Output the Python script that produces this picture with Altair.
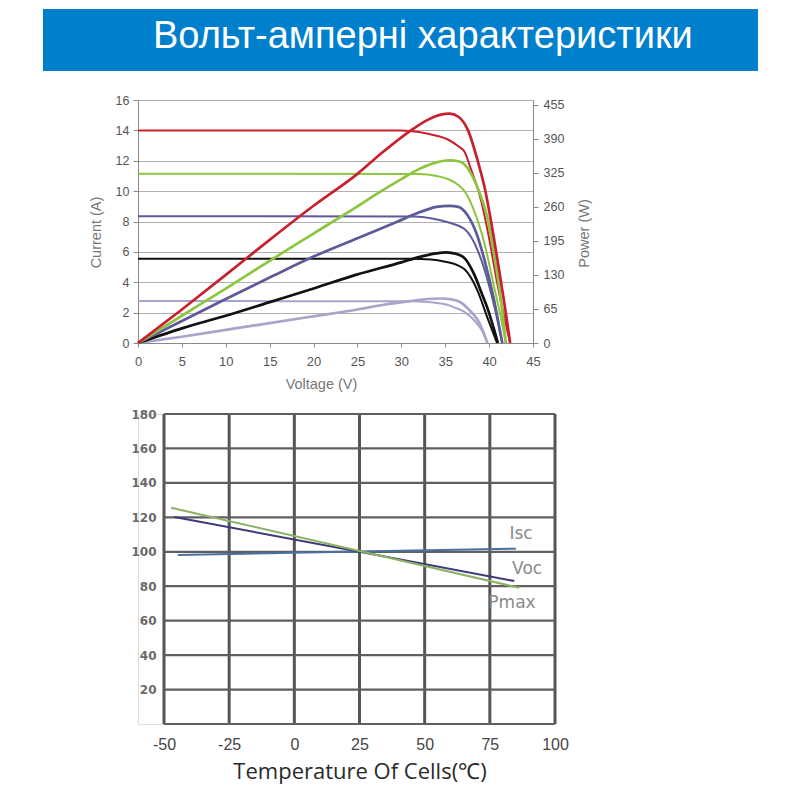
import altair as alt
import pandas as pd

# ---------------- banner ----------------
banner_title = "Вольт-амперні характеристики"

# ---------------- top chart: I-V and P-V curves ----------------
series_names = ["G1", "G2", "G3", "G4", "G5"]  # drawn in this order
series_colors = ["#a9a5c9", "#111111", "#5c5a98", "#8cc63f", "#c8202f"]

volt_ticks = [0, 5, 10, 15, 20, 25, 30, 35, 40, 45]
current_ticks = [0, 2, 4, 6, 8, 10, 12, 14, 16]
power_ticks = [0, 65, 130, 195, 260, 325, 390, 455]

# I-V curves (Voltage V, Current A)
iv_v_1 = [0, 31, 33, 35, 36, 37.2, 38.7, 39.3, 39.8]
iv_i_1 = [2.76, 2.75, 2.7, 2.55, 2.35, 2.05, 1.23, 0.7, 0]
iv_v_2 = [0, 31, 33.4, 35, 36.5, 37.2, 38.7, 39.8, 40.9]
iv_i_2 = [5.55, 5.55, 5.5, 5.35, 5.1, 4.85, 3.42, 1.67, 0]
iv_v_3 = [0, 31.5, 33.5, 35.3, 37.2, 38.7, 39.7, 40.6, 41.5]
iv_i_3 = [8.35, 8.33, 8.2, 7.95, 7.5, 6.1, 4.4, 2.4, 0]
iv_v_4 = [0, 32, 34, 35.3, 36.5, 37.2, 38.3, 39.5, 40.6, 41.3, 41.9]
iv_i_4 = [11.15, 11.12, 11.0, 10.8, 10.4, 10.0, 8.7, 6.5, 3.6, 1.8, 0]
iv_v_5 = [0, 30, 32, 34, 35.3, 36.5, 37.2, 37.9, 39.1, 40.0, 40.9, 41.8, 42.4]
iv_i_5 = [14.0, 14.0, 13.9, 13.65, 13.4, 12.95, 12.6, 11.5, 9.35, 6.9, 4.0, 1.5, 0]

# P-V curves (Voltage V, Power W)
pv_v_1 = [0, 5, 10, 15, 20, 25, 28, 31, 33, 34.5, 35.8, 36.8, 37.8, 38.7, 39.3, 39.8]
pv_p_1 = [0, 12, 25, 38, 51, 64, 73, 80, 84, 85, 83, 77, 62, 44, 23, 0]
pv_v_2 = [0, 5, 10, 15, 20, 25, 30, 32, 34, 35.1, 36.3, 37.2, 38.3, 39.2, 39.8, 40.4, 41.0]
pv_p_2 = [0, 28, 52, 78, 104, 131, 154, 164, 171, 173, 170, 162, 131, 93, 67, 35, 0]
pv_v_3 = [0, 5, 10, 15, 20, 25, 29.6, 32, 34, 35.5, 36.5, 37.5, 38.5, 39.5, 40.5, 41.5]
pv_p_3 = [0, 42, 84, 125, 165, 200, 232, 249, 260, 262, 260, 245, 212, 157, 87, 0]
pv_v_4 = [0, 5, 10, 15, 20, 25, 27.7, 30, 32, 34, 35.5, 36.5, 37.2, 38.7, 39.8, 40.8, 41.4, 41.9]
pv_p_4 = [0, 52, 104, 157, 209, 261, 290, 313, 332, 345, 349, 347, 341, 296, 239, 145, 75, 0]
pv_v_5 = [0, 5, 10, 15, 20, 25, 28, 31.1, 33, 34.5, 35.5, 36.5, 37.6, 38.7, 39.5, 40.4, 41.2, 41.9, 42.4]
pv_p_5 = [0, 64, 130, 197, 262, 323, 366, 406, 426, 436, 438, 432, 406, 348, 296, 215, 133, 58, 0]

# ---------------- bottom chart: temperature coefficients ----------------
temp_ticks = [-50, -25, 0, 25, 50, 75, 100]
pct_ticks = [0, 20, 40, 60, 80, 100, 120, 140, 160, 180]
pct_label_ticks = [20, 40, 60, 80, 100, 120, 140, 160, 180]

isc_t = [-44.7, 25, 85.0]
isc_v = [98.1, 100.1, 101.8]
voc_t = [-46, 25, 84.4]
voc_v = [120.2, 100, 83.0]
pmax_t = [-47.3, 25, 86.3]
pmax_v = [125.6, 100.4, 79.1]

param_names = ["Isc", "Voc", "Pmax"]
param_colors = ["#4d6fa0", "#3d3a7a", "#8db266"]
label_t = [87, 89.3, 83.5]
label_v = [110.3, 90, 70.3]

# ---------------- build tables ----------------
iv_rows, pv_rows = [], []
iv_sets = [(iv_v_1, iv_i_1), (iv_v_2, iv_i_2), (iv_v_3, iv_i_3), (iv_v_4, iv_i_4), (iv_v_5, iv_i_5)]
pv_sets = [(pv_v_1, pv_p_1), (pv_v_2, pv_p_2), (pv_v_3, pv_p_3), (pv_v_4, pv_p_4), (pv_v_5, pv_p_5)]
for k, name in enumerate(series_names):
    for j, (v, i) in enumerate(zip(*iv_sets[k])):
        iv_rows.append({"series": name, "V": v, "I": i, "o": j})
    for j, (v, p) in enumerate(zip(*pv_sets[k])):
        pv_rows.append({"series": name, "V": v, "P": p, "o": j})
iv_df = pd.DataFrame(iv_rows)
pv_df = pd.DataFrame(pv_rows)

temp_rows = []
for name, ts, vs in [("Isc", isc_t, isc_v), ("Voc", voc_t, voc_v), ("Pmax", pmax_t, pmax_v)]:
    for t, v in zip(ts, vs):
        temp_rows.append({"param": name, "T": t, "val": v})
temp_df = pd.DataFrame(temp_rows)
label_df = pd.DataFrame({"T": label_t, "val": label_v, "txt": param_names})
vgrid_df = pd.DataFrame({"T": temp_ticks, "val": [pct_ticks[0]] * len(temp_ticks),
                         "val2": [pct_ticks[-1]] * len(temp_ticks)})
hgrid_df = pd.DataFrame({"val": pct_ticks, "T": [temp_ticks[0]] * len(pct_ticks),
                         "T2": [temp_ticks[-1]] * len(pct_ticks)})

FONT = "Liberation Sans"

# ---------------- top chart ----------------
color_top = alt.Scale(domain=series_names, range=series_colors)
x_top_axis = alt.Axis(values=volt_ticks, title="Voltage (V)", grid=False, labelFlush=False,
                      labelFontSize=13, labelColor="#555", labelPadding=8,
                      tickSize=4, tickColor="#888", domainColor="#888",
                      titleFontSize=14.5, titleColor="#777", titleFontWeight="normal",
                      titlePadding=9, titleX=183)
x_top = alt.X("V:Q", scale=alt.Scale(domain=[0, 45], nice=False), axis=x_top_axis)

iv_layer = alt.Chart(iv_df).mark_line(interpolate="monotone", strokeWidth=2).encode(
    x=x_top,
    y=alt.Y("I:Q", scale=alt.Scale(domain=[0, 16], nice=False),
            axis=alt.Axis(values=current_ticks, orient="left", title="Current (A)",
                          grid=True, gridColor="#b0b0b0", gridWidth=1, labelFlush=False,
                          labelFontSize=12.5, labelColor="#555", labelPadding=4,
                          tickSize=5, tickColor="#888", domainColor="#888",
                          titleFontSize=14.5, titleColor="#777", titleFontWeight="normal",
                          titlePadding=12, titleY=132)),
    color=alt.Color("series:N", scale=color_top, legend=None),
    order="o:Q",
)
pv_layer = alt.Chart(pv_df).mark_line(interpolate="monotone", strokeWidth=2.7).encode(
    x=x_top,
    y=alt.Y("P:Q", scale=alt.Scale(domain=[0, 464], nice=False),
            axis=alt.Axis(values=power_ticks, orient="right", title="Power (W)",
                          grid=False, labelFlush=False,
                          labelFontSize=12.5, labelColor="#555", labelPadding=5,
                          tickSize=5, tickColor="#888", domainColor="#888",
                          titleFontSize=14.5, titleColor="#777", titleFontWeight="normal",
                          titleAngle=270, titlePadding=28, titleY=133)),
    color=alt.Color("series:N", scale=color_top, legend=None),
    order="o:Q",
)
top = alt.layer(iv_layer, pv_layer).resolve_scale(y="independent").properties(width=395, height=243)

# ---------------- bottom chart ----------------
temp_scale = alt.Scale(domain=[temp_ticks[0], temp_ticks[-1]], range=[26, 417], nice=False, zero=False)
pct_scale = alt.Scale(domain=[pct_ticks[0], pct_ticks[-1]], nice=False)
x_bot_axis = alt.Axis(values=temp_ticks, title="Temperature Of Cells(℃)", grid=False,
                      domain=False, ticks=False, labelFlush=False,
                      labelExpr="replace(datum.label, '−', '-')",
                      labelFontSize=16, labelColor="#444",
                      labelPadding=12, titleFont="Open Sans", titleFontSize=22,
                      titleColor="#2a2a2a", titleFontWeight="normal", titlePadding=9,
                      titleX=221.5)
y_bot_axis = alt.Axis(values=pct_label_ticks, title=None, grid=False, domain=False,
                      ticks=False, labelFlush=False, labelFont="DejaVu Sans", labelFontWeight="bold",
                      labelFontSize=12, labelColor="#6a6a6a", labelPadding=8, offset=-26)
xb = lambda f: alt.X(f, scale=temp_scale, axis=x_bot_axis)
yb = lambda f: alt.Y(f, scale=pct_scale, axis=y_bot_axis)

vgrid = alt.Chart(vgrid_df).mark_rule(color="#555555", strokeWidth=3).encode(
    x=xb("T:Q"), y=yb("val:Q"), y2="val2:Q")
hgrid = alt.Chart(hgrid_df).mark_rule(color="#5f5f5f", strokeWidth=2.2).encode(
    x=xb("T:Q"), x2="T2:Q", y=yb("val:Q"))
lines = alt.Chart(temp_df).mark_line(strokeWidth=2).encode(
    x=xb("T:Q"), y=yb("val:Q"),
    color=alt.Color("param:N", scale=alt.Scale(domain=param_names, range=param_colors), legend=None))
labels = alt.Chart(label_df).mark_text(font="DejaVu Sans", fontSize=17, color="#8a8a8a",
                                       align="center", baseline="middle").encode(
    x=xb("T:Q"), y=yb("val:Q"), text="txt:N")
bottom = alt.layer(vgrid, hgrid, lines, labels).properties(width=417, height=310)

# ---------------- banner ----------------
banner_df = pd.DataFrame({"title": [banner_title]})
banner_rect = alt.Chart(banner_df).mark_rect(color="#0080cc").encode(
    x=alt.value(-95), x2=alt.value(620), y=alt.value(0), y2=alt.value(62))
banner_text = alt.Chart(banner_df).mark_text(font=FONT, fontSize=38, color="white",
                                             align="left", baseline="alphabetic").encode(
    x=alt.value(15), y=alt.value(38.7), text="title:N")
banner = alt.layer(banner_rect, banner_text).properties(width=395, height=20)

chart = alt.vconcat(banner, top, bottom, spacing=71, bounds="flush").resolve_scale(
    color="independent"
).properties(
    padding={"left": 34, "top": 0, "right": 10, "bottom": 4}
).configure_view(stroke="transparent").configure_axis(
    labelFont=FONT, titleFont=FONT
).configure(background="white")

chart.save("out.html", embed_options={"renderer": "svg", "actions": False})
